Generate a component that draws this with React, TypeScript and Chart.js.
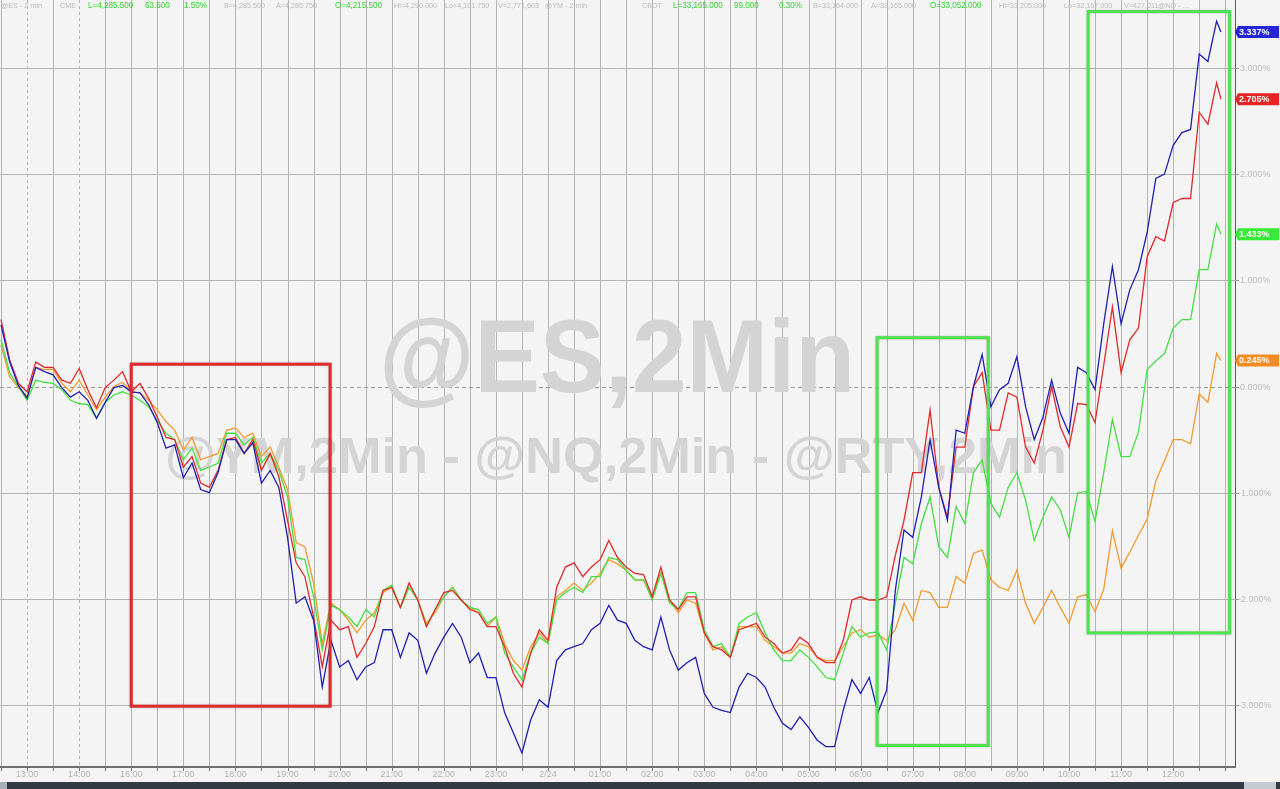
import React, { useEffect, useRef } from "react";
import { Chart, registerables } from "chart.js";

Chart.register(...registerables);

// ---- data (percent change) sampled every 10 minutes of session time from 12:30 ----
const STEP_MIN = 10;
const LAST_MIN = 1405;

const HOUR_LABELS = [
  "13:00", "14:00", "16:00", "17:00", "18:00", "19:00", "20:00", "21:00", "22:00", "23:00",
  "2/24", "01:00", "02:00", "03:00", "04:00", "05:00", "06:00", "07:00", "08:00", "09:00",
  "10:00", "11:00", "12:00",
];
const Y_TICKS = [-3, -2, -1, 0, 1, 2, 3];

const NQ = [
  0.58, 0.23, 0.01, -0.11, 0.18, 0.14, 0.11, -0.01, -0.10, -0.05,
  -0.13, -0.30, -0.15, -0.01, 0.01, -0.05, -0.06, -0.17, -0.34, -0.58,
  -0.55, -0.86, -0.72, -0.97, -1.00, -0.81, -0.50, -0.50, -0.63, -0.53,
  -0.91, -0.79, -0.95, -1.42, -2.04, -1.98, -2.20, -2.83, -2.39, -2.64,
  -2.58, -2.76, -2.64, -2.60, -2.29, -2.29, -2.55, -2.32, -2.39, -2.70,
  -2.51, -2.36, -2.23, -2.36, -2.60, -2.51, -2.74, -2.74, -3.07, -3.26,
  -3.45, -3.14, -2.95, -3.02, -2.58, -2.48, -2.45, -2.42, -2.29, -2.23,
  -2.06, -2.20, -2.23, -2.39, -2.45, -2.48, -2.17, -2.48, -2.67, -2.60,
  -2.55, -2.89, -3.02, -3.05, -3.07, -2.83, -2.70, -2.74, -2.83, -3.02,
  -3.17, -3.23, -3.11, -3.21, -3.33, -3.39, -3.39, -3.05, -2.76, -2.89,
  -2.74, -3.07, -2.86, -1.92, -1.35, -1.42, -1.04, -0.50, -0.95, -1.26,
  -0.41, -0.44, 0.00, 0.30, -0.19, -0.03, 0.03, 0.28, -0.19, -0.50,
  -0.29, 0.06, -0.25, -0.44, 0.18, 0.13, -0.03, 0.59, 1.13, 0.59,
  0.91, 1.10, 1.45, 1.96, 2.00, 2.27, 2.39, 2.42, 3.13, 3.06,
  3.44, 3.337,
];

const ES = [
  0.63, 0.25, 0.03, -0.05, 0.23, 0.18, 0.18, 0.06, 0.03, 0.17,
  -0.03, -0.20, -0.01, 0.06, 0.14, -0.05, 0.03, -0.11, -0.29, -0.48,
  -0.50, -0.76, -0.66, -0.91, -0.95, -0.79, -0.50, -0.48, -0.63, -0.50,
  -0.79, -0.63, -0.85, -1.26, -1.66, -1.79, -2.17, -2.64, -2.20, -2.29,
  -2.26, -2.55, -2.42, -2.26, -1.92, -1.89, -2.08, -1.85, -2.01, -2.26,
  -2.10, -1.94, -1.92, -2.01, -2.10, -2.13, -2.26, -2.26, -2.45, -2.70,
  -2.83, -2.51, -2.29, -2.39, -1.89, -1.70, -1.66, -1.79, -1.70, -1.63,
  -1.45, -1.61, -1.70, -1.76, -1.77, -1.98, -1.70, -2.01, -2.10, -1.98,
  -1.98, -2.32, -2.45, -2.48, -2.55, -2.29, -2.26, -2.23, -2.36, -2.42,
  -2.51, -2.48, -2.36, -2.42, -2.55, -2.60, -2.60, -2.39, -2.01, -1.98,
  -2.01, -2.01, -1.98, -1.59, -1.26, -0.81, -0.81, -0.22, -0.95, -1.23,
  -0.57, -0.57, 0.00, 0.13, -0.41, -0.41, -0.06, -0.10, -0.57, -0.72,
  -0.41, 0.00, -0.38, -0.57, -0.16, -0.17, -0.34, 0.20, 0.75, 0.13,
  0.44, 0.55, 1.22, 1.41, 1.37, 1.73, 1.77, 1.77, 2.58, 2.47,
  2.86, 2.705,
];

const YM = [
  0.44, 0.13, 0.00, -0.13, 0.06, 0.04, 0.03, -0.03, -0.13, -0.16,
  -0.17, -0.30, -0.15, -0.08, -0.05, -0.08, -0.13, -0.19, -0.32, -0.44,
  -0.50, -0.69, -0.58, -0.79, -0.76, -0.72, -0.44, -0.44, -0.55, -0.48,
  -0.72, -0.63, -0.79, -1.04, -1.61, -1.63, -1.98, -2.48, -2.06, -2.10,
  -2.17, -2.26, -2.10, -2.17, -1.92, -1.87, -2.08, -1.89, -2.01, -2.26,
  -2.10, -1.98, -1.89, -2.01, -2.08, -2.10, -2.23, -2.17, -2.51, -2.64,
  -2.76, -2.51, -2.36, -2.42, -2.01, -1.94, -1.89, -1.94, -1.79, -1.79,
  -1.61, -1.63, -1.73, -1.82, -1.82, -2.01, -1.76, -2.04, -2.10, -1.94,
  -1.94, -2.29, -2.45, -2.42, -2.55, -2.23, -2.17, -2.13, -2.32, -2.48,
  -2.58, -2.58, -2.48, -2.55, -2.64, -2.74, -2.76, -2.51, -2.26, -2.36,
  -2.32, -2.31, -2.48, -2.04, -1.61, -1.67, -1.29, -1.04, -1.51, -1.61,
  -1.13, -1.29, -0.81, -0.69, -1.10, -1.23, -0.95, -0.81, -1.07, -1.45,
  -1.23, -1.04, -1.16, -1.42, -1.00, -0.99, -1.27, -0.81, -0.31, -0.66,
  -0.66, -0.43, 0.16, 0.24, 0.31, 0.55, 0.63, 0.63, 1.10, 1.10,
  1.53, 1.433,
];

const RTY = [
  0.39, 0.09, -0.01, -0.09, 0.18, 0.16, 0.16, 0.03, -0.05, 0.06,
  -0.08, -0.22, -0.10, 0.00, 0.04, -0.05, -0.06, -0.13, -0.22, -0.33,
  -0.41, -0.60, -0.48, -0.69, -0.66, -0.63, -0.41, -0.39, -0.48, -0.44,
  -0.66, -0.57, -0.76, -0.97, -1.47, -1.51, -1.85, -2.42, -2.04, -2.10,
  -2.20, -2.32, -2.20, -2.13, -1.94, -1.89, -2.08, -1.89, -2.01, -2.23,
  -2.13, -1.98, -1.89, -2.01, -2.08, -2.13, -2.26, -2.17, -2.42, -2.58,
  -2.67, -2.45, -2.32, -2.42, -1.98, -1.92, -1.85, -1.92, -1.85, -1.76,
  -1.63, -1.67, -1.73, -1.82, -1.82, -1.98, -1.75, -2.01, -2.13, -2.01,
  -2.04, -2.32, -2.48, -2.45, -2.55, -2.26, -2.26, -2.26, -2.39, -2.45,
  -2.51, -2.51, -2.42, -2.45, -2.55, -2.58, -2.58, -2.45, -2.32, -2.29,
  -2.36, -2.34, -2.39, -2.29, -2.04, -2.20, -1.92, -1.94, -2.08, -2.08,
  -1.79, -1.85, -1.57, -1.54, -1.82, -1.89, -1.92, -1.73, -2.04, -2.23,
  -2.08, -1.92, -2.08, -2.23, -1.98, -1.96, -2.12, -1.91, -1.36, -1.71,
  -1.56, -1.40, -1.25, -0.89, -0.70, -0.50, -0.50, -0.54, -0.07, -0.15,
  0.31, 0.245,
];

const SERIES_COLORS = ["#2020b4", "#e22a2a", "#44e044", "#f39a2e"];
const BOX_COLORS = ["#2424d8", "#e62424", "#33ec33", "#f58a1f"];

// highlight boxes in data units (minutes, percent)
const RED_BOX = { x0: 150, x1: 379, y0: 0.21, y1: -3.01 };
const GREEN_BOXES = [
  { x0: 1009, x1: 1137, y0: 0.46, y1: -3.38 },
  { x0: 1252, x1: 1415, y0: 3.53, y1: -2.32 },
];

const HEADER: [string, number, boolean][] = [
  ["@ES - 2 min", 1, false], ["CME", 60, false], ["L=4,285.500", 88, true], ["63.500", 145, true],
  ["1.50%", 184, true], ["B=4,285.500", 224, false], ["A=4,285.750", 276, false], ["O=4,215.500", 335, true],
  ["Hi=4,290.000", 394, false], ["Lo=4,101.750", 445, false], ["V=2,771,603", 498, false], ["@YM - 2 min", 545, false],
  ["CBOT", 642, false], ["L=33,165.000", 673, true], ["99.000", 734, true], ["0.30%", 779, true],
  ["B=33,164.000", 813, false], ["A=33,165.000", 871, false], ["O=33,052.000", 930, true],
  ["Hi=33,205.000", 999, false], ["Lo=32,167.000", 1064, false], ["V=427,011", 1124, false], ["@NQ - …", 1158, false],
];

const X_MIN = -1.15;
const X_MAX = 1421.2;
const Y_MAX = 3.639;
const Y_MIN = -3.573;
const FONT = '"Liberation Sans", Arial, sans-serif';

function toPoints(vals: number[]) {
  return vals.map((v, i) => ({ x: i === vals.length - 1 ? LAST_MIN : i * STEP_MIN, y: v }));
}

function fitText(ctx: CanvasRenderingContext2D, text: string, cx: number, baseline: number, size: number, targetW: number, color: string) {
  ctx.save();
  ctx.font = `bold ${size}px ${FONT}`;
  const w = ctx.measureText(text).width;
  ctx.translate(cx, baseline);
  ctx.scale(targetW / w, 1);
  ctx.fillStyle = color;
  ctx.textAlign = "center";
  ctx.textBaseline = "alphabetic";
  ctx.fillText(text, 0, 0);
  ctx.restore();
}

const backgroundPlugin = {
  id: "bgPlugin",
  beforeDraw(chart: any) {
    const { ctx, width, height } = chart;
    ctx.save();
    ctx.fillStyle = "#f4f4f4";
    ctx.fillRect(0, 0, width, height);
    ctx.restore();
  },
  beforeDatasetsDraw(chart: any) {
    const { ctx, chartArea: a, scales } = chart;
    const x = scales.x;
    const y = scales.y;
    ctx.save();
    for (let m = 0; m <= X_MAX; m += 30) {
      const px = Math.round(x.getPixelForValue(m)) + 0.5;
      ctx.beginPath();
      ctx.lineWidth = 1;
      ctx.strokeStyle = "#b4b4b4";
      ctx.setLineDash(m === 30 || m === 90 ? [3, 3] : []);
      ctx.moveTo(px, a.top);
      ctx.lineTo(px, a.bottom);
      ctx.stroke();
    }
    for (const v of Y_TICKS) {
      const py = Math.round(y.getPixelForValue(v)) + 0.5;
      ctx.beginPath();
      ctx.lineWidth = 1;
      if (v === 0) {
        ctx.strokeStyle = "#9a9a9a";
        ctx.setLineDash([4, 3]);
      } else {
        ctx.strokeStyle = "#b4b4b4";
        ctx.setLineDash([]);
      }
      ctx.moveTo(a.left, py);
      ctx.lineTo(a.right, py);
      ctx.stroke();
    }
    ctx.setLineDash([]);
    ctx.restore();
    fitText(ctx, "@ES,2Min", 617, 392, 103, 476, "#d4d4d4");
    fitText(ctx, "@YM,2Min - @NQ,2Min - @RTY,2Min", 616, 473, 50, 902, "#d4d4d4");
  },
  afterDatasetsDraw(chart: any) {
    const { ctx, scales } = chart;
    const x = scales.x;
    const y = scales.y;
    const drawBox = (b: any, color: string) => {
      const l = x.getPixelForValue(b.x0);
      const r = x.getPixelForValue(b.x1);
      const t = y.getPixelForValue(b.y0);
      const btm = y.getPixelForValue(b.y1);
      ctx.save();
      ctx.strokeStyle = color;
      ctx.lineWidth = 3;
      ctx.shadowColor = "rgba(0,0,0,0.25)";
      ctx.shadowBlur = 2;
      ctx.strokeRect(l, t, r - l, btm - t);
      ctx.restore();
    };
    drawBox(RED_BOX, "#df2b2b");
    GREEN_BOXES.forEach((b) => drawBox(b, "#4fe24f"));
  },
  afterDraw(chart: any) {
    const { ctx, chartArea: a, scales, width } = chart;
    const x = scales.x;
    const y = scales.y;
    ctx.save();
    ctx.strokeStyle = "#5a5a5a";
    ctx.lineWidth = 1;
    ctx.beginPath();
    ctx.moveTo(a.right + 0.5, a.top);
    ctx.lineTo(a.right + 0.5, a.bottom + 1);
    ctx.stroke();
    ctx.strokeStyle = "#6e6e6e";
    ctx.lineWidth = 2;
    ctx.beginPath();
    ctx.moveTo(0, a.bottom + 1);
    ctx.lineTo(a.right + 1, a.bottom + 1);
    ctx.stroke();
    ctx.lineWidth = 1;
    ctx.strokeStyle = "#777";
    for (let m = 0; m <= X_MAX; m += 30) {
      const px = Math.round(x.getPixelForValue(m)) + 0.5;
      ctx.beginPath();
      ctx.moveTo(px, a.bottom + 2);
      ctx.lineTo(px, a.bottom + 5);
      ctx.stroke();
    }
    ctx.font = `9px ${FONT}`;
    ctx.fillStyle = "#b2b2b2";
    ctx.textAlign = "center";
    ctx.textBaseline = "middle";
    HOUR_LABELS.forEach((lab, i) => {
      ctx.fillText(lab, x.getPixelForValue(30 + 60 * i), a.bottom + 9);
    });
    ctx.textAlign = "left";
    for (const v of Y_TICKS) {
      const py = Math.round(y.getPixelForValue(v)) + 0.5;
      ctx.strokeStyle = "#999";
      ctx.beginPath();
      ctx.moveTo(a.right, py);
      ctx.lineTo(a.right + 4, py);
      ctx.stroke();
      ctx.fillStyle = "#bcbcbc";
      ctx.fillText(`${v.toFixed(3)}%`, a.right + (v < 0 ? 3 : 5), py);
    }
    const lasts = [NQ, ES, YM, RTY].map((s) => s[s.length - 1]);
    lasts.forEach((v, i) => {
      const py = y.getPixelForValue(v);
      ctx.fillStyle = BOX_COLORS[i];
      ctx.beginPath();
      ctx.moveTo(a.right + 0, py);
      ctx.lineTo(a.right + 3, py - 6);
      ctx.lineTo(width - 1, py - 6);
      ctx.lineTo(width - 1, py + 6);
      ctx.lineTo(a.right + 3, py + 6);
      ctx.closePath();
      ctx.fill();
      ctx.fillStyle = "#ffffff";
      ctx.font = `bold 9px ${FONT}`;
      ctx.fillText(`${v.toFixed(3)}%`, a.right + 4, py + 0.5);
    });
    ctx.textBaseline = "middle";
    HEADER.forEach(([t, px, green]) => {
      ctx.save();
      ctx.translate(px, 6);
      ctx.scale(0.9, 1);
      ctx.fillStyle = green ? "#2fd52f" : "#bababa";
      ctx.font = green ? `9px ${FONT}` : `8px ${FONT}`;
      ctx.fillText(t, 0, 0);
      ctx.restore();
    });
    ctx.fillStyle = "#343a42";
    ctx.fillRect(0, 782, width, 7);
    ctx.fillStyle = "#a9afb7";
    ctx.fillRect(0, 782, 7, 7);
    ctx.fillStyle = "#c6cbd1";
    ctx.fillRect(1244, 782, 32, 7);
    ctx.restore();
  },
};

export default function App() {
  const ref = useRef<HTMLCanvasElement | null>(null);
  useEffect(() => {
    if (!ref.current) return;
    const series = [NQ, ES, YM, RTY];
    const chart = new Chart(ref.current, {
      type: "line",
      data: {
        datasets: series.map((s, i) => ({
          data: toPoints(s),
          borderColor: SERIES_COLORS[i],
          borderWidth: 1.3,
          pointRadius: 0,
          tension: 0,
          fill: false,
        })),
      },
      options: {
        animation: false,
        responsive: false,
        maintainAspectRatio: false,
        layout: { padding: 0 },
        plugins: { legend: { display: false }, tooltip: { enabled: false } },
        scales: {
          x: {
            type: "linear",
            min: X_MIN,
            max: X_MAX,
            grid: { display: false },
            border: { display: false },
            ticks: { display: false },
            afterFit: (s: any) => { s.height = 23; },
          },
          y: {
            type: "linear",
            position: "right",
            min: Y_MIN,
            max: Y_MAX,
            grid: { display: false },
            border: { display: false },
            ticks: { display: false },
            afterFit: (s: any) => { s.width = 45; },
          },
        },
      },
      plugins: [backgroundPlugin],
    } as any);
    return () => chart.destroy();
  }, []);
  return (
    <div style={{ position: "fixed", left: 0, top: 0, width: 1280, height: 789, background: "#f4f4f4" }}>
      <canvas ref={ref} width={1280} height={789} style={{ display: "block" }} />
    </div>
  );
}
